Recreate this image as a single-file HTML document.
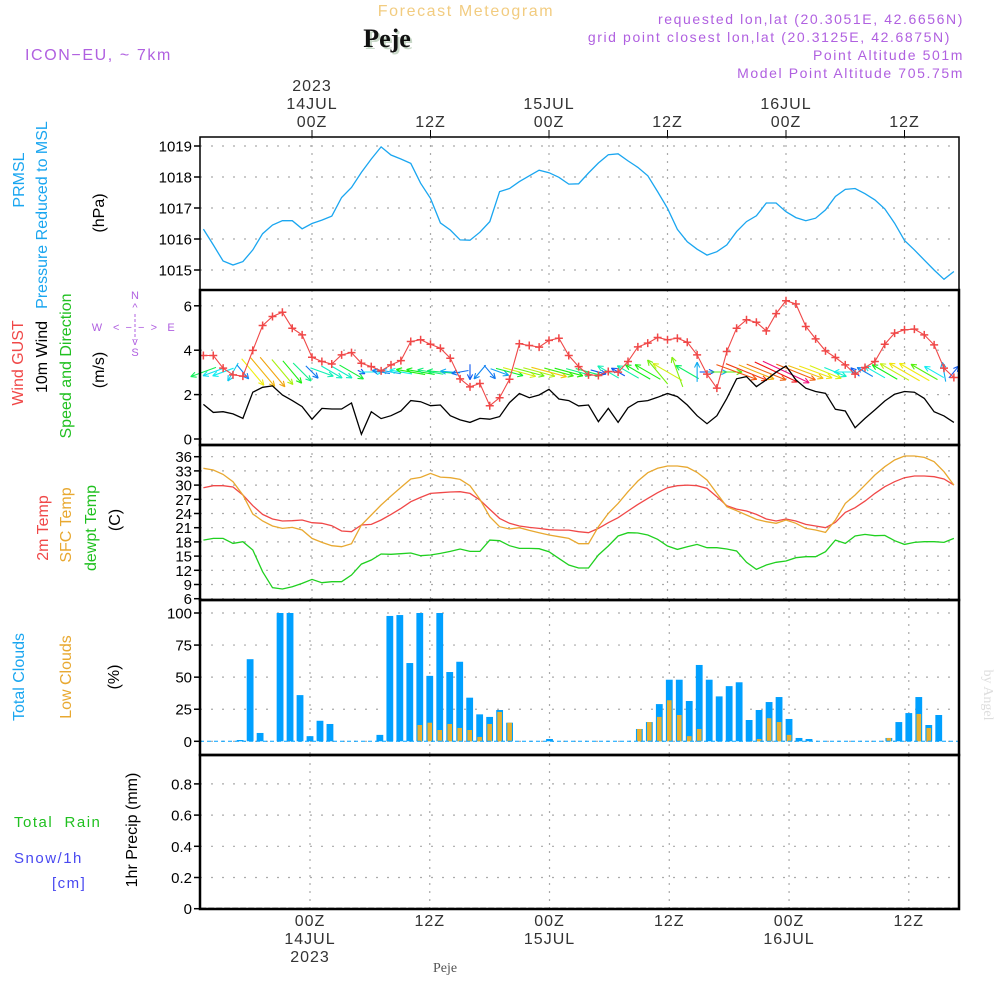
<!DOCTYPE html>
<html><head><meta charset="utf-8">
<style>
html,body{margin:0;padding:0;background:#fff;}
svg{display:block;font-family:"Liberation Sans",sans-serif;}
.hdr{letter-spacing:1.6px;}
</style></head>
<body>
<svg id="chart" width="1000" height="1000" viewBox="0 0 1000 1000" xmlns="http://www.w3.org/2000/svg">
<g id="static">
<text x="466" y="16" text-anchor="middle" font-size="16" fill="#f2cc80" class="hdr">Forecast Meteogram</text>
<text x="389" y="49" text-anchor="middle" font-size="26" font-weight="bold" font-family="Liberation Serif,serif" fill="#c8d8c8">Peje</text>
<text x="387" y="47" text-anchor="middle" font-size="26" font-weight="bold" font-family="Liberation Serif,serif" fill="#111">Peje</text>
<text x="25" y="60" font-size="16" fill="#b060e0" class="hdr">ICON−EU, ~ 7km</text>
<text x="964" y="24" text-anchor="end" font-size="14" fill="#b060e0" class="hdr">requested lon,lat (20.3051E, 42.6656N)</text>
<text x="951" y="42" text-anchor="end" font-size="14" fill="#b060e0" class="hdr">grid point closest lon,lat (20.3125E, 42.6875N)</text>
<text x="964" y="60" text-anchor="end" font-size="14" fill="#b060e0" class="hdr">Point Altitude 501m</text>
<text x="964" y="78" text-anchor="end" font-size="14" fill="#b060e0" class="hdr">Model Point Altitude 705.75m</text>
<text x="445" y="972" text-anchor="middle" font-size="14" font-family="Liberation Serif,serif" fill="#555">Peje</text>
<text transform="translate(984,695) rotate(90)" text-anchor="middle" font-size="14" font-family="Liberation Serif,serif" fill="#ddd">by Angel</text>
</g>
<g id="grid"></g>
<g id="marks"></g>
<g id="frames"></g>
<g id="labels"></g>
</svg>
<script>
// hours relative to 00Z 14JUL
const hours = [];
for (let h = -11; h <= 65; h++) hours.push(h);
const pressure = [1016.32,1015.81,1015.29,1015.16,1015.27,1015.65,1016.17,1016.45,1016.59,1016.59,1016.33,1016.5,1016.61,1016.74,1017.34,1017.66,1018.15,1018.58,1018.97,1018.71,1018.58,1018.44,1017.8,1017.31,1016.52,1016.29,1015.97,1015.96,1016.22,1016.56,1017.53,1017.63,1017.85,1018.04,1018.22,1018.14,1017.99,1017.77,1017.78,1018.13,1018.45,1018.72,1018.75,1018.52,1018.31,1018.04,1017.53,1016.99,1016.31,1015.91,1015.67,1015.48,1015.59,1015.81,1016.24,1016.56,1016.75,1017.16,1017.16,1016.88,1016.69,1016.59,1016.67,1016.94,1017.37,1017.6,1017.63,1017.46,1017.26,1016.97,1016.51,1015.95,1015.65,1015.32,1015.0,1014.7,1014.95];
const gust = [3.76,3.76,3.19,2.89,2.83,3.99,5.11,5.52,5.71,4.99,4.69,3.68,3.49,3.38,3.79,3.89,3.41,3.26,3.07,3.34,3.53,4.39,4.47,4.27,4.09,3.64,2.71,2.35,2.5,1.5,1.86,2.69,4.29,4.21,4.14,4.44,4.54,3.76,3.26,2.89,2.86,3.04,3.01,3.49,4.15,4.32,4.57,4.47,4.54,4.36,3.79,2.92,2.29,3.94,4.99,5.37,5.26,4.87,5.65,6.23,6.08,5.07,4.51,3.97,3.67,3.34,2.92,3.22,3.49,4.27,4.77,4.92,4.95,4.69,4.24,3.19,2.77];
const wind10 = [1.56,1.2,1.23,1.13,0.93,2.11,2.33,2.39,1.98,1.73,1.46,0.89,1.38,1.35,1.35,1.62,0.21,1.23,0.92,1.05,1.26,1.73,1.68,1.5,1.53,1.05,0.86,0.75,0.93,0.89,1.01,1.64,2.05,1.86,1.98,2.24,1.8,1.73,1.49,1.53,0.78,1.38,0.75,1.41,1.68,1.73,1.88,2.05,1.91,1.53,1.05,0.69,1.05,1.83,2.71,2.81,2.36,2.66,3.01,3.29,2.66,2.29,2.14,2.06,1.34,1.26,0.51,0.93,1.31,1.71,2.02,2.14,2.11,1.83,1.23,1.04,0.75];
const windDir = [70,70,70,30,320,320,320,320,320,320,315,315,290,300,300,300,295,270,100,100,100,100,100,100,95,95,80,0,40,320,290,285,285,285,285,285,285,285,285,285,285,120,120,120,120,120,140,120,160,120,180,270,270,270,290,292,292,292,295,295,292,290,290,292,292,90,135,120,120,120,120,120,120,120,120,170,220];
const temp2m = [29.45,29.87,29.87,29.59,27.9,25.65,23.82,22.83,22.41,22.48,22.62,22.06,21.92,21.42,20.3,20.15,21.56,21.7,22.62,23.82,25.08,26.49,27.41,28.25,28.39,28.54,28.6,28.25,26.85,24.87,22.97,21.92,21.35,21.07,20.86,20.58,20.5,20.5,20.15,19.94,20.86,22.06,23.11,24.52,25.93,27.2,28.39,29.45,29.87,30.01,29.87,29.31,27.55,25.65,24.94,24.52,23.82,22.83,22.41,22.83,22.41,21.7,21.35,21.0,22.13,24.24,25.23,26.63,28.25,29.66,30.72,31.56,31.92,31.92,31.77,31.28,30.01];
const sfcTemp = [33.54,33.18,32.27,30.72,27.9,23.89,22.41,21.35,20.86,21.07,20.51,18.75,17.9,17.2,16.99,17.62,21.56,23.68,25.79,27.69,29.52,31.28,31.63,32.48,31.7,31.56,31.21,29.87,26.99,23.32,21.21,20.72,21.0,20.44,19.94,19.45,19.1,18.75,17.62,17.62,21.21,24.03,26.14,28.6,30.86,32.62,33.54,34.03,34.03,33.75,32.69,31.07,28.25,25.44,24.59,23.68,22.76,22.27,21.92,22.62,21.92,20.86,20.51,20.01,22.62,26.14,27.9,30.01,32.13,33.89,35.3,36.14,36.14,35.86,34.94,32.83,30.01];
const dewpt = [18.39,18.75,18.75,17.69,18.04,16.28,11.7,8.32,8.04,8.54,9.24,10.08,9.38,9.59,9.59,11.0,13.32,14.17,15.44,15.37,15.51,15.65,15.08,15.23,15.58,16.0,16.49,16.0,16.0,18.39,18.25,17.2,16.63,16.63,16.56,15.93,14.52,13.11,12.48,12.48,15.23,17.13,19.24,19.94,19.87,19.45,18.54,17.13,16.42,16.99,17.48,16.77,16.77,16.49,16.07,13.68,12.2,13.11,13.68,13.96,14.66,14.87,14.87,15.93,18.39,17.69,19.24,19.59,19.31,19.38,18.25,17.48,17.9,18.04,18.04,17.9,18.75];
const totalClouds = [0,0,0,0,1,64,6.5,0,100,100,36,4,16,13.5,0,0,0,0,5,97.7,98.4,61,100,51,100,54,62,34,21,19,24.4,14.5,0,0,0,1.8,0,0,0,0,0,0,0,0,9.6,15,29,48,48,31.4,59.5,48,35,43,46,16.6,24.4,30.6,34.5,17.4,2.6,1.8,0,0,0,0,0,0,0,2.6,15,22,34.5,12.7,20.5,0,0];
const lowClouds = [0,0,0,0,0,0,0,0,0,0,0,0,0,0,0,0,0,0,0,0,0,0,12.7,14.5,8.8,13.5,10.4,8.8,3.4,13.5,22.9,14.5,0,0,0,0,0,0,0,0,0,0,0,0,9.6,15,19,32,20.5,4,9.6,0,0,0,0,0,1.8,18,15,5,0,0,0,0,0,0,0,0,0,2.6,0,0,21.3,10.4,0,0,0];
const precip = hours.map(() => 0);
const pressTicks = [1015,1016,1017,1018,1019];
const windTicks = [0,2,4,6];
const tempTicks = [6,9,12,15,18,21,24,27,30,33,36];
const cloudTicks = [0,25,50,75,100];
const precipTicks = [0,0.2,0.4,0.6,0.8];
const timeTicks = [0,12,24,36,48,60];
const topTimeLabels = [["2023","14JUL","00Z"],["","","12Z"],["","15JUL","00Z"],["","","12Z"],["","16JUL","00Z"],["","","12Z"]];
const botTimeLabels = [["00Z","14JUL","2023"],["12Z","",""],["00Z","15JUL",""],["12Z","",""],["00Z","16JUL",""],["12Z","",""]];

const NS = "http://www.w3.org/2000/svg";
const L = 200, R = 959;
const X = h => 312 + 9.875 * h;
const XC = h => 310 + 9.98 * h;
const yP = p => 146 + (1019 - p) * 31;
const yW = v => 439 - v * 22.2;
const yT = t => 456.7 + (36 - t) * (142 / 30);
const yC = c => 741.3 - c * 1.283;
const yR = r => 908.7 - r * 156;
const panels = [[137,290],[290,445],[445,600],[600,755],[755,909]];

function mk(tag, attrs, parent) {
  const e = document.createElementNS(NS, tag);
  for (const k in attrs) e.setAttribute(k, attrs[k]);
  parent.appendChild(e);
  return e;
}
const gGrid = document.getElementById('grid');
const gMarks = document.getElementById('marks');
const gFrames = document.getElementById('frames');
const gLab = document.getElementById('labels');

panels.forEach((p, i) => {
  const fx = i >= 3 ? XC : X;
  timeTicks.forEach(t => {
    const l = mk('line', {x1: fx(t), x2: fx(t), y1: p[0], y2: p[1], stroke: '#aaa', 'stroke-width': 1.2, 'stroke-dasharray': '2,6'}, gGrid);
    
    
  });
});
function hgrid(ticks, fy, fmt, cls) {
  ticks.forEach(t => {
    const y = fy(t);
    const l = mk('line', {x1: L, x2: R, y1: y, y2: y, stroke: '#aaa', 'stroke-width': 1.2, 'stroke-dasharray': '2,9'}, gGrid);
    
    
    const tk = mk('line', {x1: L - 6, x2: L, y1: y, y2: y, stroke: '#000', 'stroke-width': 1.5}, gFrames);
    
    
    const tx = mk('text', {x: L - 8, y: y + 5.5, 'text-anchor': 'end', 'font-size': 15, fill: '#000'}, gLab);
    tx.textContent = fmt(t);
    
    
  });
}
hgrid(pressTicks, yP, String, 'pressure');
hgrid(windTicks, yW, String, 'wind');
hgrid(tempTicks, yT, String, 'temp');
hgrid(cloudTicks, yC, String, 'cloud');
hgrid(precipTicks, yR, t => t === 0 ? '0' : t.toFixed(1), 'precip');

function line(vals, fx, fy, color, name, w) {
  const pts = vals.map((v, i) => fx(hours[i]).toFixed(1) + ',' + fy(v).toFixed(1)).join(' ');
  const pl = mk('polyline', {points: pts, fill: 'none', stroke: color, 'stroke-width': w || 1.3}, gMarks);
  
  
}
line(pressure, X, yP, '#1aa6f0', 'pressure-line');

totalClouds.forEach((c, i) => {
  if (c <= 0) return;
  const r = mk('rect', {x: XC(hours[i]) - 3.4, y: yC(c), width: 6.8, height: yC(0) - yC(c), fill: '#00a0ff'}, gMarks);
  
  
});
lowClouds.forEach((c, i) => {
  if (c <= 0) return;
  const r = mk('rect', {x: XC(hours[i]) - 2.3, y: yC(c), width: 4.6, height: yC(0) - yC(c), fill: '#e8b030'}, gMarks);
  
  
});
const bl = mk('line', {x1: L, x2: R, y1: yC(0), y2: yC(0), stroke: '#00a0ff', 'stroke-width': 1, 'stroke-dasharray': '4,3'}, gMarks);



line(temp2m, X, yT, '#f04848', 'temp-2m-line');
line(sfcTemp, X, yT, '#e8a830', 'sfc-temp-line');
line(dewpt, X, yT, '#20d020', 'dewpoint-line');

const pb = mk('polyline', {points: precip.map((v, i) => XC(hours[i]) + ',' + yR(v)).join(' '), fill: 'none', stroke: '#000', 'stroke-width': 2, 'stroke-dasharray': '6,2'}, gMarks);



// speed -> hue colormap (piecewise)
const cmapV = [0.8, 1.3, 1.7, 2.1, 2.5, 3.0, 3.4];
const cmapH = [220, 175, 120, 60, 32, 0, -40];
function spdColor(v) {
  let hue = cmapH[0];
  if (v >= cmapV[cmapV.length - 1]) hue = cmapH[cmapH.length - 1];
  else for (let k = 0; k < cmapV.length - 1; k++) {
    if (v >= cmapV[k] && v < cmapV[k + 1]) {
      hue = cmapH[k] + (cmapH[k + 1] - cmapH[k]) * (v - cmapV[k]) / (cmapV[k + 1] - cmapV[k]);
    }
  }
  hue = (hue + 360) % 360;
  return 'hsl(' + hue.toFixed(0) + ',88%,50%)';
}
windDir.forEach((d, i) => {
  const v = wind10[i];
  const len = 5 + 14 * v;
  const to = (d + 180) * Math.PI / 180;
  const dx = Math.sin(to) * len, dy = -Math.cos(to) * len;
  const x0 = X(hours[i]) - dx / 2, y0 = 372 - dy / 2;
  const x1 = x0 + dx, y1 = y0 + dy;
  const c = spdColor(v);
  const g = mk('g', {stroke: c, 'stroke-width': 1.1, fill: 'none'}, gMarks);
  
  
  mk('line', {x1: x0, y1: y0, x2: x1, y2: y1}, g);
  const a = Math.atan2(dy, dx);
  [0.45, -0.45].forEach(o => {
    mk('line', {x1: x1, y1: y1, x2: x1 - 6 * Math.cos(a + o), y2: y1 - 6 * Math.sin(a + o)}, g);
  });
});
line(wind10, X, yW, '#000', 'wind-10m-line');
line(gust, X, yW, '#f04848', 'gust-line', 1.1);
gust.forEach((v, i) => {
  const x = X(hours[i]), y = yW(v);
  const m = mk('path', {d: `M${x-4},${y}H${x+4}M${x},${y-4}V${y+4}`, stroke: '#f04848', 'stroke-width': 1.5}, gMarks);
  
  
});

panels.forEach((p, i) => {
  const r = mk('rect', {x: L, y: p[0], width: R - L, height: p[1] - p[0], fill: 'none', stroke: '#000', 'stroke-width': i === 0 ? 1.5 : 2.5}, gFrames);
  
  
});
timeTicks.forEach(t => {
  const tk = mk('line', {x1: X(t), x2: X(t), y1: 130, y2: 137, stroke: '#000', 'stroke-width': 1}, gFrames);
  
  
});

topTimeLabels.forEach((arr, k) => {
  arr.forEach((s, j) => {
    if (!s) return;
    const t = mk('text', {x: X(timeTicks[k]), y: 91 + j * 18, 'text-anchor': 'middle', 'font-size': 16, fill: '#333', 'letter-spacing': '1'}, gLab);
    t.textContent = s;
    
    
  });
});
botTimeLabels.forEach((arr, k) => {
  arr.forEach((s, j) => {
    if (!s) return;
    const t = mk('text', {x: XC(timeTicks[k]), y: 926 + j * 18, 'text-anchor': 'middle', 'font-size': 16, fill: '#333', 'letter-spacing': '1'}, gLab);
    t.textContent = s;
    
    
  });
});

const vt = [
  ['PRMSL', 24, 180, '#1aa6f0', 'pressure-title-1'],
  ['Pressure Reduced to MSL', 47, 215, '#1aa6f0', 'pressure-title-2'],
  ['(hPa)', 104, 213, '#000', 'pressure-unit'],
  ['Wind GUST', 23, 363, '#f04848', 'gust-title'],
  ['10m Wind', 47, 357, '#000', 'wind-title'],
  ['Speed and Direction', 71, 366, '#20c020', 'wind-dir-title'],
  ['(m/s)', 104, 370, '#000', 'wind-unit'],
  ['2m Temp', 48, 528, '#f04848', 'temp-2m-title'],
  ['SFC Temp', 71, 525, '#e8a830', 'sfc-temp-title'],
  ['dewpt Temp', 96, 528, '#20c020', 'dewpt-title'],
  ['(C)', 120, 520, '#000', 'temp-unit'],
  ['Total Clouds', 24, 677, '#1aa6f0', 'total-cloud-title'],
  ['Low Clouds', 71, 677, '#e8a830', 'low-cloud-title'],
  ['(%)', 119, 677, '#000', 'cloud-unit'],
  ['1hr Precip (mm)', 137, 830, '#000', 'precip-title']
];
vt.forEach(([s, x, y, c, n]) => {
  const t = mk('text', {transform: `translate(${x},${y}) rotate(-90)`, 'text-anchor': 'middle', 'font-size': 16, fill: c}, gLab);
  t.textContent = s;
  
  
});
const ht = [
  ['Total  Rain', 14, 827, '#20c020', 'rain-label'],
  ['Snow/1h', 14, 863, '#4848f0', 'snow-label'],
  ['[cm]', 52, 888, '#4848f0', 'snow-unit']
];
ht.forEach(([s, x, y, c, n]) => {
  const t = mk('text', {x: x, y: y, 'font-size': 15, fill: c, 'letter-spacing': '1.5'}, gLab);
  t.textContent = s;
  t.style.whiteSpace = 'pre';
  
  
});
const comp = mk('g', {fill: '#b060e0', 'font-size': 11, 'text-anchor': 'middle'}, gLab);


[['N', 135, 299], ['^', 135, 311], ['W', 97, 331], ['<  −  −  >', 135, 331], ['E', 171, 331], ['v', 135, 345], ['S', 135, 356]].forEach(([s, x, y]) => {
  const t = mk('text', {x: x, y: y}, comp);
  t.textContent = s;
  t.style.whiteSpace = 'pre';
});
mk('line', {x1: 135, x2: 135, y1: 314, y2: 340, stroke: '#b060e0', 'stroke-width': 1, 'stroke-dasharray': '3,2'}, comp);
</script>
</body></html>
